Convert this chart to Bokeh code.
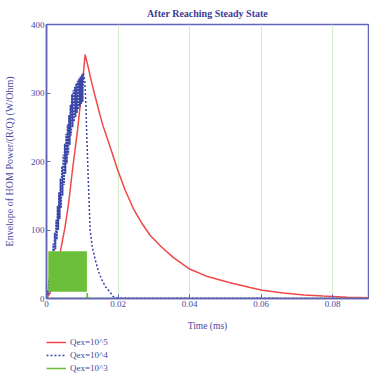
from bokeh.plotting import figure
from bokeh.models import FixedTicker, Legend, LegendItem
from bokeh.layouts import column
from bokeh.embed import file_html
from bokeh.resources import INLINE

# ---- data ----
red_t = [0, 0.001, 0.002, 0.003, 0.0043, 0.0052, 0.0062, 0.0072, 0.0087, 0.0098, 0.0108,
         0.0115, 0.0125, 0.0135, 0.0150, 0.0158, 0.0175, 0.0198, 0.0220, 0.0243, 0.0265,
         0.0290, 0.0320, 0.0354, 0.0400, 0.0450, 0.0513, 0.0569, 0.0603, 0.0662, 0.0720,
         0.0773, 0.0840, 0.0900]
red_v = [0, 8, 22, 45, 80, 105, 140, 185, 247, 300, 356,
         341, 318, 297, 267, 252, 226, 189, 158, 131, 111,
         92, 76, 60, 43, 32, 23, 16, 12, 8, 5,
         3.5, 2, 1]

blue_peak_t = [0.0003, 0.0007, 0.0011, 0.0015, 0.0019, 0.0023, 0.0027, 0.0031, 0.0035, 0.0039,
               0.0043, 0.0047, 0.0051, 0.0055, 0.0059, 0.0063, 0.0067, 0.0071, 0.0075, 0.0079,
               0.0083, 0.0087, 0.0091, 0.0095, 0.0099, 0.0103]
blue_peak_v = [12, 28, 44, 62, 80, 96, 115, 135, 155, 175, 193, 210, 226, 240, 254, 268, 283,
               298, 304, 309, 314, 318, 321, 324, 327, 329]
blue_trough_t = [0.0005, 0.0009, 0.0013, 0.0017, 0.0021, 0.0025, 0.0029, 0.0033, 0.0037, 0.0041,
                 0.0045, 0.0049, 0.0053, 0.0057, 0.0061, 0.0065, 0.0069, 0.0073, 0.0077, 0.0081,
                 0.0085, 0.0089, 0.0093, 0.0097, 0.0101]
blue_trough_v = [6, 18, 30, 44, 58, 72, 86, 100, 116, 132, 150, 166, 182, 197, 210, 224, 238,
                 250, 258, 265, 271, 276, 280, 284, 287]
blue_tail_t = [0.0103, 0.0107, 0.0110, 0.0112, 0.0117, 0.0122, 0.0128, 0.0136, 0.0145, 0.0154,
               0.0165, 0.0178, 0.0186, 0.0200, 0.0900]
blue_tail_v = [329, 318, 285, 247, 170, 100, 75, 57, 40, 28, 17, 9, 3, 0.5, 0]

green_block_t = [0.0005, 0.0113]
green_block_lo = [10, 10]
green_block_hi = [69, 69]
green_line_t = [0, 0.0113, 0.0114, 0.0115, 0.0900]
green_line_v = [0, 0, 8, 0, 0]

x_ticks = [0, 0.02, 0.04, 0.06, 0.08]
x_tick_labels = ["0", "0.02", "0.04", "0.06", "0.08"]
y_ticks = [0, 100, 200, 300, 400]
legend_labels = ["Qex=10^5", "Qex=10^4", "Qex=10^3"]

# ---- blue oscillating band from the read peaks/troughs ----
band_t = [0]
band_v = [0]
for i in range(len(blue_peak_t)):
    band_t.append(blue_peak_t[i]); band_v.append(blue_peak_v[i])
    if i < len(blue_trough_t):
        band_t.append(blue_trough_t[i]); band_v.append(blue_trough_v[i])

AX = "#6262b8"
TX = "#4848a0"
FONT = "Liberation Serif"
RED = "#f04848"
BLUE = "#3a46a8"
GREEN = "#6cbf3a"

p = figure(frame_width=322, frame_height=274, x_range=(0, 0.09), y_range=(0, 400),
           output_backend="svg", toolbar_location=None,
           min_border_left=38, min_border_right=1, min_border_top=17, min_border_bottom=0,
           title="After Reaching Steady State")
p.title.align = "center"
p.title.text_font = FONT
p.title.text_font_size = "10px"
p.title.text_font_style = "bold"
p.title.text_color = "#3c3c98"
p.title.standoff = 11

p.outline_line_color = AX
p.outline_line_width = 1.5
p.outline_line_alpha = 1

p.xaxis.ticker = FixedTicker(ticks=x_ticks)
p.xaxis.major_label_overrides = {t: l for t, l in zip(x_ticks, x_tick_labels)}
p.yaxis.ticker = FixedTicker(ticks=y_ticks)
for ax in (p.xaxis, p.yaxis):
    ax.axis_line_color = AX
    ax.axis_line_width = 1.5
    ax.major_tick_line_color = AX
    ax.major_tick_in = 4
    ax.major_tick_out = 0
    ax.minor_tick_line_color = None
    ax.major_label_text_font = FONT
    ax.major_label_text_font_size = "9px"
    ax.major_label_text_color = TX
    ax.axis_label_text_font = FONT
    ax.axis_label_text_font_style = "normal"
    ax.axis_label_text_color = TX
    ax.major_label_standoff = 2
p.xaxis.axis_label = "Time (ms)"
p.xaxis.axis_label_text_font_size = "9.5px"
p.xaxis.axis_label_standoff = 11
p.yaxis.axis_label = "Envelope of HOM Power/(R/Q) (W/Ohm)"
p.yaxis.axis_label_text_font_size = "10px"
p.yaxis.axis_label_standoff = 13

p.ygrid.grid_line_color = None
p.xgrid.grid_line_color = "#d6ecc8"
p.xgrid.grid_line_width = 1

p.line(red_t, red_v, line_color=RED, line_width=1.5)
p.line(band_t, band_v, line_color=BLUE, line_width=1.7, line_dash="2 1")
p.varea(x=green_block_t, y1=green_block_lo, y2=green_block_hi, fill_color=GREEN)
p.line(green_line_t, green_line_v, line_color=GREEN, line_width=1.5)
p.line(blue_tail_t, blue_tail_v, line_color=BLUE, line_width=1.5, line_dash="2 2")

# ---- legend strip below the chart (proxy lines with no visible data) ----
nan = float("nan")
lg = figure(width=361, height=39, x_range=(0, 1), y_range=(0, 1),
            output_backend="svg", toolbar_location=None,
            min_border_left=40, min_border_right=0, min_border_top=0, min_border_bottom=0)
lg.axis.visible = False
lg.grid.grid_line_color = None
lg.outline_line_color = None
l1 = lg.line(x=[nan], y=[nan], line_color=RED, line_width=1.5)
l2 = lg.line(x=[nan], y=[nan], line_color=BLUE, line_width=1.5, line_dash="2 2")
l3 = lg.line(x=[nan], y=[nan], line_color=GREEN, line_width=1.5)
legend = Legend(items=[LegendItem(label=legend_labels[0], renderers=[l1], index=0),
                       LegendItem(label=legend_labels[1], renderers=[l2], index=0),
                       LegendItem(label=legend_labels[2], renderers=[l3], index=0)],
                location="top_left", orientation="vertical")
legend.border_line_color = None
legend.background_fill_alpha = 0
legend.label_text_font = FONT
legend.label_text_font_size = "9px"
legend.label_text_color = TX
legend.glyph_width = 20
legend.glyph_height = 12
legend.label_height = 12
legend.label_standoff = 4
legend.spacing = 1
legend.padding = 0
legend.margin = 0
lg.add_layout(legend)

layout = column(p, lg, spacing=3)
open("out.html", "w").write(file_html(layout, INLINE))
